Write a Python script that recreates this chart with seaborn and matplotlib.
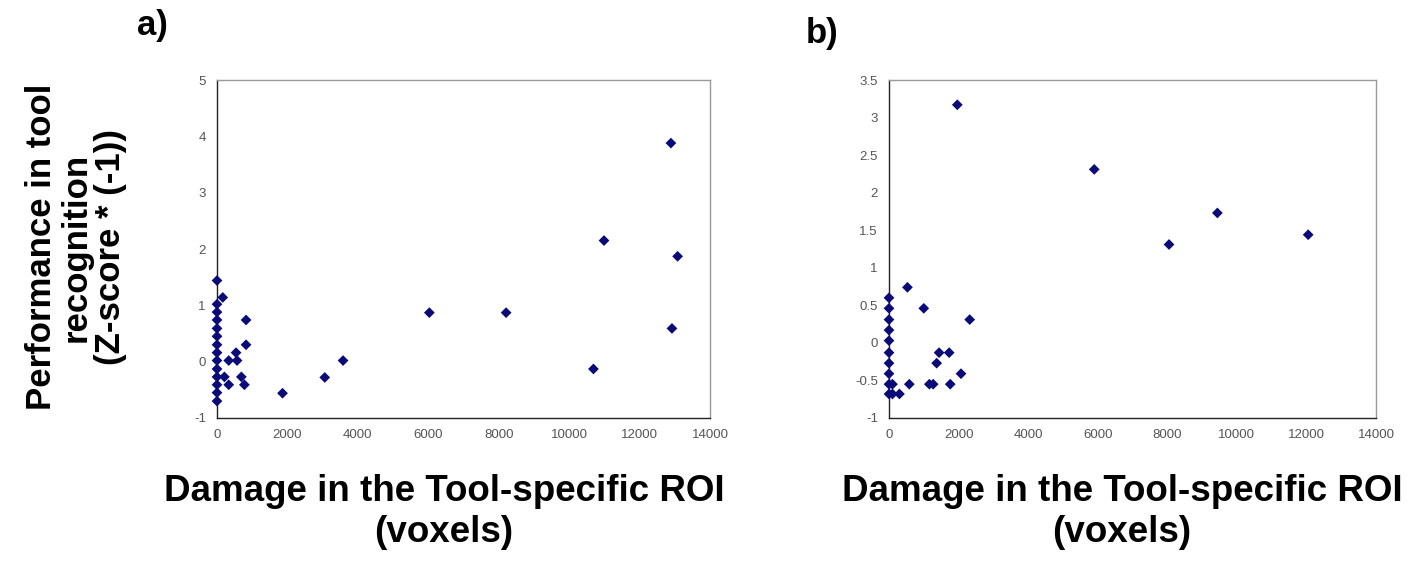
import matplotlib
matplotlib.use('Agg')
import matplotlib.pyplot as plt
import matplotlib.ticker as ticker
import seaborn as sns
import pandas as pd

# panel a) damage (voxels) vs performance
damageA = [0, 0, 0, 0, 0, 0, 0, 0, 0, 0, 0, 0, 0, 0,
           163, 825, 825, 541, 333, 570, 210, 692, 333, 778,
           1860, 3060, 3580, 6030, 8210, 10690, 10990, 12890, 13080, 12920]
perfA = [1.44, 1.02, 0.88, 0.74, 0.59, 0.45, 0.30, 0.16, 0.02, -0.13, -0.27, -0.41, -0.55, -0.70,
         1.14, 0.74, 0.30, 0.16, 0.02, 0.02, -0.27, -0.27, -0.41, -0.41,
         -0.56, -0.28, 0.02, 0.87, 0.87, -0.13, 2.15, 3.88, 1.87, 0.59]

# panel b)
damageB = [0, 0, 0, 0, 0, 0, 0, 0, 0, 0,
           100, 100, 300, 584, 1160, 1270, 1760, 2070, 1370, 1440, 1730,
           2320, 1000, 530, 1964, 5900, 8050, 9440, 12050]
perfB = [0.60, 0.46, 0.31, 0.17, 0.03, -0.13, -0.27, -0.41, -0.55, -0.68,
         -0.55, -0.68, -0.68, -0.55, -0.55, -0.55, -0.55, -0.41, -0.27, -0.13, -0.13,
         0.31, 0.46, 0.74, 3.17, 2.31, 1.31, 1.73, 1.44]

xTicks = [0, 2000, 4000, 6000, 8000, 10000, 12000, 14000]
yTicksA = [-1, 0, 1, 2, 3, 4, 5]
yTicksB = [-1, -0.5, 0, 0.5, 1, 1.5, 2, 2.5, 3, 3.5]

xLabel = "Damage in the Tool-specific ROI\n(voxels)"
yLabel = "Performance in tool\nrecognition\n(Z-score * (-1))"


def styleAxes(ax, yTicks):
    ax.set_xlim(0, 14000)
    ax.set_ylim(yTicks[0], yTicks[-1])
    ax.set_xticks(xTicks)
    ax.set_yticks(yTicks)
    ax.yaxis.set_major_formatter(ticker.FuncFormatter(lambda v, p: '{:g}'.format(v)))
    ax.set_xlabel('')
    ax.set_ylabel('')
    ax.set_facecolor('white')
    ax.grid(False)
    for side in ['left', 'bottom']:
        ax.spines[side].set_color('#222222')
        ax.spines[side].set_linewidth(1.0)
    for side in ['top', 'right']:
        ax.spines[side].set_color('#9a9a9a')
        ax.spines[side].set_linewidth(1.0)
    ax.tick_params(direction='out', length=4, width=0.8, color='#333333',
                   labelsize=9.5, labelcolor='#555555', pad=4)


def buildScatter(ax, damage, perf, yTicks):
    df = pd.DataFrame({'damage': damage, 'perf': perf})
    sns.scatterplot(data=df, x='damage', y='perf', ax=ax, marker='D', s=30,
                    color='#0a0a78', edgecolor='none', linewidth=0, zorder=3)
    for coll in ax.collections:
        coll.set_clip_on(False)
    styleAxes(ax, yTicks)


sns.set_style('white')
plt.rcParams['font.family'] = ['Liberation Sans', 'DejaVu Sans']

fig = plt.figure(figsize=(14.18, 5.7), dpi=100)
axA = fig.add_axes([217 / 1418, 152 / 570, 493 / 1418, 338 / 570])
axB = fig.add_axes([889 / 1418, 152 / 570, 487 / 1418, 338 / 570])

buildScatter(axA, damageA, perfA, yTicksA)
buildScatter(axB, damageB, perfB, yTicksB)

boldText = dict(fontweight='bold', color='black')
fig.text(152 / 1418, 1 - 26 / 570, 'a)', ha='center', va='center', fontsize=25, **boldText)
fig.text(822 / 1418, 1 - 33 / 570, 'b)', ha='center', va='center', fontsize=25, **boldText)
fig.text(76 / 1418, 1 - 247 / 570, yLabel, rotation=90, ha='center', va='center',
         linespacing=1.05, multialignment='center', fontsize=25, **boldText)
fig.text(444 / 1418, 1 - 512 / 570, xLabel, ha='center', va='center',
         linespacing=1.22, multialignment='center', fontsize=26.5, **boldText)
fig.text(1122 / 1418, 1 - 512 / 570, xLabel, ha='center', va='center',
         linespacing=1.22, multialignment='center', fontsize=26.5, **boldText)

plt.savefig('out.png', dpi=100)
plt.close()
